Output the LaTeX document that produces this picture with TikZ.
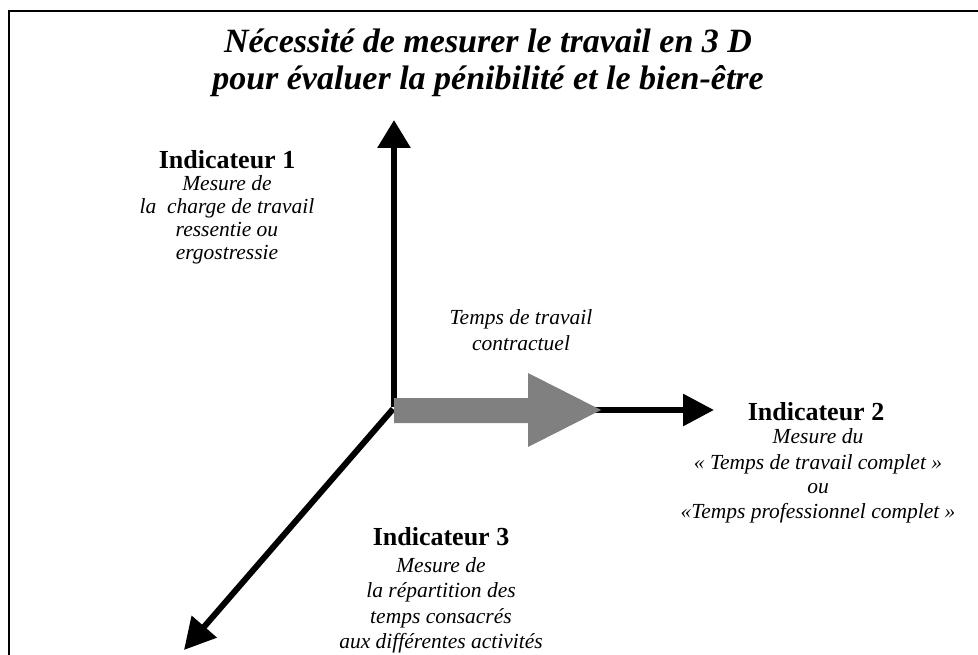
\documentclass[tikz,border=0pt]{standalone}
\usepackage{fontspec}
\setmainfont{Liberation Serif}
\usetikzlibrary{arrows.meta}
\definecolor{arrowgray}{RGB}{128,128,128}
\tikzset{
  ttl/.style={anchor=base, inner sep=0pt, font=\fontsize{34}{38}\selectfont\bfseries\itshape},
  head/.style={anchor=base, inner sep=0pt, font=\fontsize{26}{29}\selectfont\bfseries},
  itl/.style={anchor=base, inner sep=0pt, font=\fontsize{21.5}{24}\selectfont\itshape},
  axis/.style={line width=6pt, draw=black},
}
\begin{document}
\begin{tikzpicture}[x=1pt, y=-1pt]
\useasboundingbox (0,0) rectangle (978,655);
\clip (0,0) rectangle (978,655);
% frame (only top and left edges visible)
\draw[line width=2.2pt] (9,680) -- (9,11) -- (1000,11);
% title
\node[ttl] (t1) at (488,53) {Nécessité de mesurer le travail en 3 D};
\node[ttl] (t2) at (488,90) {pour évaluer la pénibilité et le bien-être};
% axes
\coordinate (O) at (394,410);
\coordinate (Ytip) at (394,120);
\coordinate (Xtip) at (714,410);
\coordinate (Ztip) at (184,650);
\draw[axis, -{Triangle[length=28pt,width=32pt]}] ([yshift=3pt]O) -- (Ytip);
\draw[axis, -{Triangle[length=31pt,width=31pt]}] (O) -- (Xtip);
\draw[axis, -{Triangle[length=31pt,width=32pt]}] ([xshift=-1pt,yshift=1pt]O) -- (Ztip);
% grey block arrow
\fill[arrowgray] (394,398) -- (528,398) -- (528,373) -- (601,410) -- (528,447) -- (528,423) -- (394,423) -- cycle;
% Indicateur 1
\node[head] (i1h) at (227,169) {Indicateur 1};
\node[itl] (i1a) at (227,191) {Mesure de};
\node[itl] (i1b) at (227,214) {la\ \ charge de travail};
\node[itl] (i1c) at (227,237) {ressentie ou};
\node[itl] (i1d) at (227,260) {ergostressie};
% Temps de travail contractuel
\node[itl] (tc1) at (521,325) {Temps de travail};
\node[itl] (tc2) at (521,350) {contractuel};
% Indicateur 2
\node[head] (i2h) at (816,420) {Indicateur 2};
\node[itl] (i2a) at (818,443) {Mesure du};
\node[itl] (i2b) at (818,469) {« Temps de travail complet »};
\node[itl] (i2c) at (818,493) {ou};
\node[itl] (i2d) at (818,518) {«Temps professionnel complet »};
% Indicateur 3
\node[head] (i3h) at (441,545) {Indicateur 3};
\node[itl] (i3a) at (441,572) {Mesure de};
\node[itl] (i3b) at (441,597) {la répartition des};
\node[itl] (i3c) at (441,623) {temps consacrés};
\node[itl] (i3d) at (441,648) {aux différentes activités};
\end{tikzpicture}
\end{document}
